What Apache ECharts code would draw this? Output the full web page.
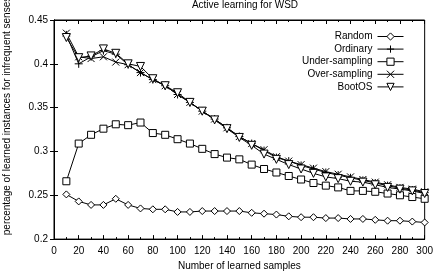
<!DOCTYPE html>
<html>
<head>
<meta charset="utf-8">
<script src="https://cdn.jsdelivr.net/npm/echarts@6/dist/echarts.min.js"></script>
<style>
  html, body { margin: 0; padding: 0; background: #fff; }
  #chart { width: 436px; height: 276px; }
</style>
</head>
<body>
<div id="chart"></div>
<script>
var samples = [10, 20, 30, 40, 50, 60, 70, 80, 90, 100, 110, 120, 130, 140, 150,
               160, 170, 180, 190, 200, 210, 220, 230, 240, 250, 260, 270, 280, 290, 300];
var random = [0.251, 0.243, 0.239, 0.239, 0.246, 0.239, 0.235, 0.234, 0.234, 0.231, 0.231, 0.232, 0.232, 0.232, 0.232,
              0.230, 0.229, 0.228, 0.226, 0.225, 0.225, 0.224, 0.224, 0.223, 0.223, 0.222, 0.221, 0.221, 0.220, 0.219];
var ordinary = [0.433, 0.400, 0.408, 0.415, 0.411, 0.399, 0.390, 0.382, 0.375, 0.365, 0.356, 0.346, 0.337, 0.327, 0.317,
                0.309, 0.301, 0.293, 0.289, 0.284, 0.280, 0.276, 0.273, 0.270, 0.267, 0.264, 0.261, 0.258, 0.256, 0.253];
var underSampling = [0.266, 0.309, 0.319, 0.326, 0.331, 0.330, 0.333, 0.321, 0.319, 0.314, 0.309, 0.303, 0.297, 0.293, 0.291,
                     0.285, 0.280, 0.276, 0.272, 0.268, 0.264, 0.261, 0.259, 0.255, 0.255, 0.254, 0.252, 0.250, 0.248, 0.246];
var overSampling = [0.435, 0.408, 0.406, 0.408, 0.402, 0.399, 0.390, 0.382, 0.375, 0.365, 0.356, 0.346, 0.337, 0.327, 0.317,
                    0.309, 0.302, 0.294, 0.289, 0.285, 0.281, 0.277, 0.274, 0.271, 0.268, 0.265, 0.262, 0.259, 0.257, 0.254];
var bootOS = [0.430, 0.407, 0.409, 0.417, 0.412, 0.400, 0.397, 0.383, 0.375, 0.367, 0.356, 0.346, 0.336, 0.326, 0.316,
              0.307, 0.297, 0.291, 0.285, 0.280, 0.275, 0.271, 0.269, 0.266, 0.265, 0.262, 0.259, 0.257, 0.255, 0.252];
var yTicks = ['0.2', '0.25', '0.3', '0.35', '0.4', '0.45'];

var font = '"Liberation Sans", Arial, sans-serif';

function pairs(vals) {
    return samples.map(function (x, i) { return [x, vals[i]]; });
}

function mkSeries(name, vals, symbol, size, extra) {
    var s = {
        name: name,
        type: 'line',
        data: pairs(vals),
        symbol: symbol,
        symbolSize: size,
        showAllSymbol: true,
        lineStyle: { color: '#000', width: 1 },
        itemStyle: { color: '#fff', borderColor: '#000', borderWidth: 1 },
        emphasis: { disabled: true },
        animation: false
    };
    for (var k in extra) s[k] = extra[k];
    return s;
}

var chart = echarts.init(document.getElementById('chart'));
chart.setOption({
    backgroundColor: '#fff',
    animation: false,
    title: {
        text: 'Active learning for WSD',
        left: 240, top: -5, textAlign: 'center',
        textStyle: { fontFamily: font, fontSize: 10, fontWeight: 'normal', color: '#000' }
    },
    graphic: [{
        type: 'text',
        x: 7, y: 116, rotation: Math.PI / 2,
        style: {
            text: 'percentage of learned instances for infrequent senses',
            fontFamily: font, fontSize: 10, fill: '#000',
            align: 'center', verticalAlign: 'middle'
        }
    }],
    legend: {
        orient: 'vertical',
        right: 27, top: 26,
        align: 'right',
        itemWidth: 26, itemHeight: 9, itemGap: 1,
        lineStyle: { width: 1 },
        itemStyle: { borderWidth: 1 },
        textStyle: { fontFamily: font, fontSize: 10, color: '#000', lineHeight: 11 },
        data: ['Random', 'Ordinary', 'Under-sampling', 'Over-sampling', 'BootOS']
    },
    grid: { left: 54, right: 9, top: 20, bottom: 35, show: true, borderColor: '#000', borderWidth: 1 },
    xAxis: [{
        type: 'value', min: 0, max: 300, interval: 20,
        name: 'Number of learned samples', nameLocation: 'middle', nameGap: 21,
        nameTextStyle: { fontFamily: font, fontSize: 10, color: '#000' },
        axisLine: { lineStyle: { color: '#000' } },
        axisTick: { inside: true, length: 4, lineStyle: { color: '#000' } },
        minorTick: { show: true, splitNumber: 2, length: 2, lineStyle: { color: '#000' } },
        axisLabel: { fontFamily: font, fontSize: 10, color: '#000', margin: 7 },
        splitLine: { show: false }
    }, {
        type: 'value', min: 0, max: 300, interval: 20, position: 'top',
        axisLine: { lineStyle: { color: '#000' } },
        axisTick: { inside: true, length: 4, lineStyle: { color: '#000' } },
        minorTick: { show: true, splitNumber: 2, length: 2, lineStyle: { color: '#000' } },
        axisLabel: { show: false },
        splitLine: { show: false }
    }],
    yAxis: [{
        type: 'value', min: 0.2, max: 0.45, interval: 0.05,
        axisLine: { show: true, lineStyle: { color: '#000' } },
        axisTick: { show: true, inside: true, length: 4, lineStyle: { color: '#000' } },
        axisLabel: {
            fontFamily: font, fontSize: 10, color: '#000', margin: 6,
            formatter: function (v) {
                var i = Math.round((v - 0.2) / 0.05);
                return yTicks[i];
            }
        },
        splitLine: { show: false }
    }, {
        type: 'value', min: 0.2, max: 0.45, interval: 0.05, position: 'right',
        axisLine: { show: true, lineStyle: { color: '#000' } },
        axisTick: { show: true, inside: true, length: 4, lineStyle: { color: '#000' } },
        axisLabel: { show: false },
        splitLine: { show: false }
    }],
    series: [
        mkSeries('Random', random, 'diamond', 7),
        mkSeries('Ordinary', ordinary, 'path://M5,0L5,10M0,5L10,5', 8, { itemStyle: { color: 'none', borderColor: '#000', borderWidth: 1 } }),
        mkSeries('Under-sampling', underSampling, 'rect', 7),
        mkSeries('Over-sampling', overSampling, 'path://M0,0L10,10M10,0L0,10', 7, { itemStyle: { color: 'none', borderColor: '#000', borderWidth: 1 } }),
        mkSeries('BootOS', bootOS, 'triangle', 8, { symbolRotate: 180 })
    ]
});
</script>
</body>
</html>
